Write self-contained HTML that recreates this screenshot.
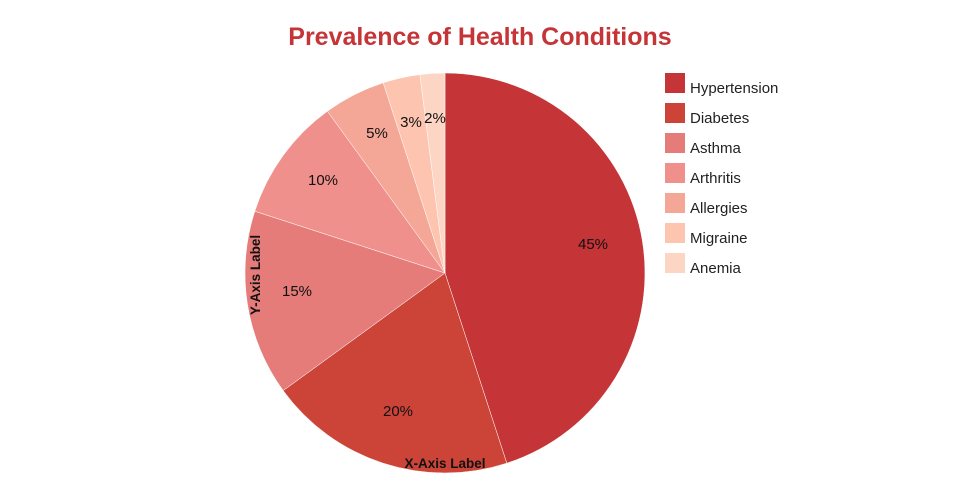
<!DOCTYPE html>
<html><head><style>body{margin:0;background:#fff}svg{display:block}text{font-family:"Liberation Sans",sans-serif}</style></head><body>
<svg width="960" height="500" xmlns="http://www.w3.org/2000/svg">
<text x="480" y="45" text-anchor="middle" font-size="25" font-weight="bold" fill="#c53437">Prevalence of Health Conditions</text>
<g stroke="#fff" stroke-width="0.5">
<path d="M445,273 L445,73 A200,200 0 0 1 506.8,463.2 Z" fill="#c53437"/>
<path d="M445,273 L506.8,463.2 A200,200 0 0 1 283.2,390.6 Z" fill="#cc4438"/>
<path d="M445,273 L283.2,390.6 A200,200 0 0 1 254.8,211.2 Z" fill="#e57c7a"/>
<path d="M445,273 L254.8,211.2 A200,200 0 0 1 327.4,111.2 Z" fill="#ef908c"/>
<path d="M445,273 L327.4,111.2 A200,200 0 0 1 383.2,82.8 Z" fill="#f4a797"/>
<path d="M445,273 L383.2,82.8 A200,200 0 0 1 419.9,74.6 Z" fill="#fdc4b0"/>
<path d="M445,273 L419.9,74.6 A200,200 0 0 1 445,73 Z" fill="#fdd5c5"/>
</g>
<g font-size="15" fill="#111" text-anchor="middle">
<text x="593" y="249">45%</text>
<text x="398" y="416">20%</text>
<text x="297" y="296">15%</text>
<text x="323" y="185">10%</text>
<text x="377" y="138">5%</text>
<text x="411" y="127">3%</text>
<text x="435" y="123">2%</text>
</g>
<text x="445" y="468" text-anchor="middle" font-size="13.5" font-weight="bold" fill="#111">X-Axis Label</text>
<text transform="translate(260,275) rotate(-90)" text-anchor="middle" font-size="13.5" font-weight="bold" fill="#111">Y-Axis Label</text>
<g font-size="15" fill="#222">
<rect x="665" y="73" width="20" height="20" fill="#c53437"/><text x="690" y="93">Hypertension</text>
<rect x="665" y="103" width="20" height="20" fill="#cc4438"/><text x="690" y="123">Diabetes</text>
<rect x="665" y="133" width="20" height="20" fill="#e57c7a"/><text x="690" y="153">Asthma</text>
<rect x="665" y="163" width="20" height="20" fill="#ef908c"/><text x="690" y="183">Arthritis</text>
<rect x="665" y="193" width="20" height="20" fill="#f4a797"/><text x="690" y="213">Allergies</text>
<rect x="665" y="223" width="20" height="20" fill="#fdc4b0"/><text x="690" y="243">Migraine</text>
<rect x="665" y="253" width="20" height="20" fill="#fdd5c5"/><text x="690" y="273">Anemia</text>
</g>
</svg>
</body></html>
